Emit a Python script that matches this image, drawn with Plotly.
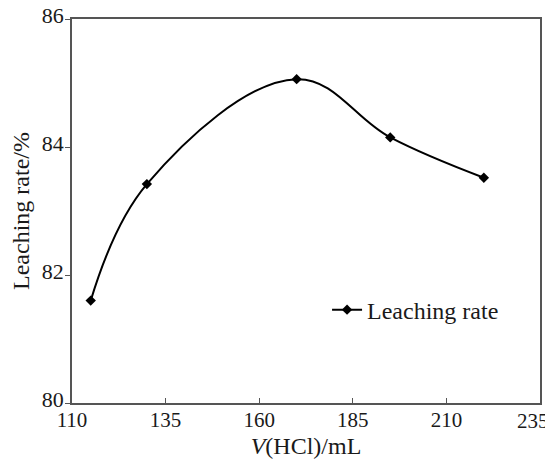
import plotly.graph_objects as go

hcl_volume = [115, 130, 170, 195, 220]
leaching_rate = [81.6, 83.42, 85.06, 84.15, 83.52]
x_ticks = [110, 135, 160, 185, 210, 235]
y_ticks = [80, 82, 84, 86]

FONT = "Liberation Serif, Times New Roman, serif"
TXT = "#1a1a1a"

fig = go.Figure()
fig.add_trace(go.Scatter(
    x=hcl_volume, y=leaching_rate,
    mode="lines+markers",
    name="Leaching rate",
    line=dict(color="black", width=2, shape="spline", smoothing=1.1),
    marker=dict(symbol="diamond", size=8, color="black"),
))

# last x tick label would run past the page edge: draw it as text nudged left
x_ticktext = [str(v) for v in x_ticks[:-1]] + [""]
fig.add_annotation(
    x=x_ticks[-1], xref="x", y=0, yref="paper",
    text=str(x_ticks[-1]), showarrow=False,
    xanchor="center", yanchor="middle", xshift=-7, yshift=-18,
    font=dict(family=FONT, size=21, color=TXT),
)

fig.update_layout(
    width=545, height=451,
    margin=dict(l=64, r=13, t=11, b=56),
    paper_bgcolor="white", plot_bgcolor="white",
    font=dict(family=FONT, size=22, color=TXT),
    showlegend=True,
    legend=dict(
        x=0.545, y=0.242, xanchor="left", yanchor="middle",
        bgcolor="rgba(0,0,0,0)", font=dict(family=FONT, size=24, color=TXT),
    ),
    xaxis=dict(
        range=[110, 235], tickvals=x_ticks, ticktext=x_ticktext,
        ticks="inside", ticklen=5, tickcolor="#555",
        showline=True, linecolor="#555", linewidth=1.5, mirror=True,
        showgrid=False, zeroline=False, automargin=False,
        ticklabeloverflow="allow", ticklabelstandoff=-3,
        title=dict(text="<i>V</i>(HCl)/mL", font=dict(family=FONT, size=24, color=TXT), standoff=10),
        tickfont=dict(family=FONT, size=21, color=TXT),
    ),
    yaxis=dict(
        range=[80, 86], tickvals=y_ticks, ticktext=[str(v) for v in y_ticks],
        ticks="outside", ticklen=5, tickcolor="#555",
        showline=True, linecolor="#555", linewidth=1.5, mirror=True,
        showgrid=False, zeroline=False, automargin=False,
        ticklabeloverflow="allow", ticklabelstandoff=-3, ticklabelshift=-4,
        title=dict(text="Leaching rate/%", font=dict(family=FONT, size=24, color=TXT), standoff=10),
        tickfont=dict(family=FONT, size=22, color=TXT),
    ),
)

fig.write_html("out.html")
